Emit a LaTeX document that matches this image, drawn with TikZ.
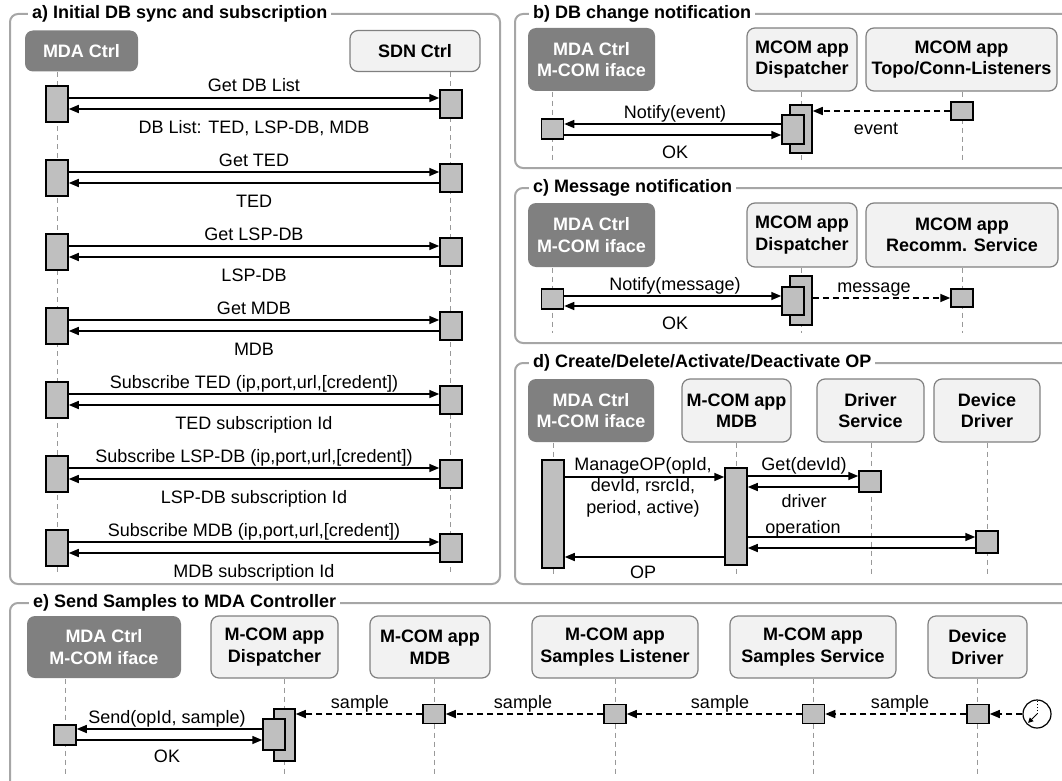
\documentclass[tikz,border=0pt]{standalone}
\usepackage{fontspec}
\setmainfont{Liberation Sans}
\usetikzlibrary{arrows.meta}

\tikzset{
  every node/.style={font=\fontsize{18}{21.5}\selectfont},
  frame/.style={draw=black!35, line width=2pt, rounded corners=8pt},
  paneltitle/.style={anchor=west, fill=white, inner sep=4pt, font=\fontsize{18}{21.5}\selectfont\bfseries},
  actor/.style={draw=black!50, line width=1.2pt, fill=black!5, rounded corners=8pt, align=center, inner sep=0pt, font=\fontsize{18}{21.5}\selectfont\bfseries},
  ctrl/.style={actor, draw=none, fill=black!50, text=white},
  act/.style={draw, line width=1.5pt, fill=black!25, inner sep=0pt, minimum width=22pt},
  life/.style={draw=black!40, line width=1pt, dash pattern=on 5pt off 4pt},
  msg/.style={-{Triangle[length=10pt,width=8pt]}, line width=1.5pt},
  dmsg/.style={msg, dash pattern=on 6pt off 4pt},
}

\begin{document}
\begin{tikzpicture}[x=1pt, y=-1pt]
  \useasboundingbox (0,0) rectangle (1062,781);
  \clip (0,0) rectangle (1062,781);

  % a) initial sync
  \draw[frame] (10,14) rectangle (500,584);
  \node[paneltitle] (ta) at (28,14) {a) Initial DB sync and subscription};
  \node[ctrl, minimum width=113, minimum height=41] (mdaA) at (81.5,51) {MDA Ctrl};
  \node[actor, minimum width=130, minimum height=41] (sdnA) at (415,51) {SDN Ctrl};
  \draw[life] (mdaA.south -| 57,0) -- (57,575);
  \draw[life] (sdnA.south -| 450,0) -- (450,575);
  \foreach \k/\ta/\tb in {0/Get DB List/{DB List: TED, LSP-DB, MDB}, 1/Get TED/TED,
      2/Get LSP-DB/LSP-DB, 3/Get MDB/MDB,
      4/{Subscribe TED (ip,port,url,[credent])}/TED subscription Id,
      5/{Subscribe LSP-DB (ip,port,url,[credent])}/LSP-DB subscription Id,
      6/{Subscribe MDB (ip,port,url,[credent])}/MDB subscription Id}{
    \pgfmathsetmacro\y{98+74*\k}
    \node[act, minimum height=36] (am\k) at (57,\y+6) {};
    \node[act, minimum height=28] (as\k) at (451,\y+6) {};
    \draw[msg] (am\k.east |- 0,\y) -- (as\k.west |- 0,\y);
    \draw[msg] (as\k.west |- 0,\y+11) -- (am\k.east |- 0,\y+11);
    \node[anchor=base] (lt\k) at (254,\y-6) {\ta};
    \node[anchor=base] (lb\k) at (254,\y+35) {\tb};
  }

  % b) DB change notification
  \draw[frame] (515,14) rectangle (1080,168);
  \node[paneltitle] (tb) at (529,14) {b) DB change notification};
  \node[ctrl, minimum width=127, minimum height=63] (mdaB) at (591.5,59.5) {MDA Ctrl\\M-COM iface};
  \node[actor, minimum width=110, minimum height=63] (dispB) at (802,59.5) {MCOM app\\Dispatcher};
  \node[actor, minimum width=191, minimum height=63] (topoB) at (961.5,59.5) {MCOM app\\Topo/Conn-Listeners};
  \draw[life] (mdaB.south -| 552,0) -- (552,161);
  \draw[life] (dispB.south -| 801,0) -- (801,161);
  \draw[life] (topoB.south -| 962,0) -- (962,161);
  \node[act, minimum height=20] (amB) at (552.5,129) {};
  \node[act, minimum height=48] (odB) at (801,129) {};
  \node[act, minimum height=29] (idB) at (793,129.5) {};
  \node[act, minimum height=18] (atB) at (962,111) {};
  \draw[dmsg] (atB.west) -- (odB.east |- atB.west);
  \draw[msg] (idB.west |- 0,124) -- (amB.east |- 0,124);
  \draw[msg] (amB.east |- 0,135) -- (idB.west |- 0,135);
  \node[anchor=base] (nb1) at (675,118) {Notify(event)};
  \node[anchor=base] (nb2) at (675,158) {OK};
  \node[anchor=base] (nb3) at (876,135) {event};

  % c) message notification
  \draw[frame] (515,188) rectangle (1080,343);
  \node[paneltitle] (tc) at (529,188) {c) Message notification};
  \node[ctrl, minimum width=127, minimum height=64] (mdaC) at (591.5,235) {MDA Ctrl\\M-COM iface};
  \node[actor, minimum width=110, minimum height=64] (dispC) at (802,235) {MCOM app\\Dispatcher};
  \node[actor, minimum width=192, minimum height=64] (recC) at (962,235) {MCOM app\\Recomm. Service};
  \draw[life] (mdaC.south -| 552,0) -- (552,333);
  \draw[life] (dispC.south -| 801,0) -- (801,333);
  \draw[life] (recC.south -| 962,0) -- (962,333);
  \node[act, minimum height=20] (amC) at (552.5,299) {};
  \node[act, minimum height=49] (odC) at (801,300.5) {};
  \node[act, minimum height=28] (idC) at (793,301) {};
  \node[act, minimum height=18] (arC) at (962,298) {};
  \draw[msg] (amC.east |- 0,296) -- (idC.west |- 0,296);
  \draw[msg] (idC.west |- 0,306) -- (amC.east |- 0,306);
  \draw[dmsg] (odC.east |- arC.west) -- (arC.west);
  \node[anchor=base] (nc1) at (675,290) {Notify(message)};
  \node[anchor=base] (nc2) at (675,329) {OK};
  \node[anchor=base] (nc3) at (874,292) {message};

  % d) create/delete/activate/deactivate
  \draw[frame] (515,363) rectangle (1080,584);
  \node[paneltitle] (td) at (529,363) {d) Create/Delete/Activate/Deactivate OP};
  \node[ctrl, minimum width=126, minimum height=63] (mdaD) at (591,410.5) {MDA Ctrl\\M-COM iface};
  \node[actor, minimum width=109, minimum height=63] (mdbD) at (736.5,410.5) {M-COM app\\MDB};
  \node[actor, minimum width=107, minimum height=63] (dsD) at (870.5,410.5) {Driver\\Service};
  \node[actor, minimum width=106, minimum height=63] (ddD) at (987,410.5) {Device\\Driver};
  \draw[life] (mdaD.south -| 553,0) -- (553,575);
  \draw[life] (mdbD.south -| 736,0) -- (736,575);
  \draw[life] (dsD.south -| 871,0) -- (871,575);
  \draw[life] (ddD.south -| 987,0) -- (987,575);
  \node[act, minimum height=108] (amD) at (553,514) {};
  \node[act, minimum height=97] (mbD) at (736,516.5) {};
  \node[act, minimum height=21] (dsA) at (870,481.5) {};
  \node[act, minimum height=22] (ddA) at (987,542) {};
  \draw[msg] (amD.east |- 0,477) -- (mbD.west |- 0,477);
  \draw[msg] (mbD.east |- 0,476) -- (dsA.west |- 0,476);
  \draw[msg] (dsA.west |- 0,487) -- (mbD.east |- 0,487);
  \draw[msg] (mbD.east |- 0,537) -- (ddA.west |- 0,537);
  \draw[msg] (ddA.west |- 0,548) -- (mbD.east |- 0,548);
  \draw[msg] (mbD.west |- 0,557) -- (amD.east |- 0,557);
  \node[align=center] (nd1) at (643,487) {ManageOP(opId,\\devId, rsrcId,\\period, active)};
  \node[anchor=base] (nd2) at (804,470) {Get(devId)};
  \node[anchor=base] (nd3) at (804,507) {driver};
  \node[anchor=base] (nd4) at (803,533) {operation};
  \node[anchor=base] (nd5) at (643,578) {OP};

  % e) samples
  \draw[frame] (10,603) rectangle (1080,795);
  \node[paneltitle] (te) at (29,603) {e) Send Samples to MDA Controller};
  \node[ctrl, minimum width=154, minimum height=62] (mdaE) at (104,647) {MDA Ctrl\\M-COM iface};
  \node[actor, minimum width=127, minimum height=62] (dispE) at (274.5,647) {M-COM app\\Dispatcher};
  \node[actor, minimum width=120, minimum height=62] (mdbE) at (430,647) {M-COM app\\MDB};
  \node[actor, minimum width=166, minimum height=62] (lisE) at (615,647) {M-COM app\\Samples Listener};
  \node[actor, minimum width=166, minimum height=62] (serE) at (813,647) {M-COM app\\Samples Service};
  \node[actor, minimum width=99, minimum height=62] (drvE) at (977.5,647) {Device\\Driver};
  \draw[life] (mdaE.south -| 65,0) -- (65,776);
  \draw[life] (dispE.south -| 284,0) -- (284,776);
  \draw[life] (mdbE.south -| 434,0) -- (434,776);
  \draw[life] (lisE.south -| 615,0) -- (615,776);
  \draw[life] (serE.south -| 813,0) -- (813,776);
  \draw[life] (drvE.south -| 977,0) -- (977,776);
  \node[act, minimum height=20] (amE) at (65,735) {};
  \node[act, minimum width=21, minimum height=52] (odE) at (284.5,735) {};
  \node[act, minimum height=31] (idE) at (274,734.5) {};
  \node[act, minimum height=19] (mbE) at (434,714) {};
  \node[act, minimum height=19] (lsE) at (615,714) {};
  \node[act, minimum height=19] (svE) at (813.5,714) {};
  \node[act, minimum height=19] (dvE) at (978,714) {};
  \node[draw, circle, line width=1.2pt, minimum size=28, inner sep=0pt] (clk) at (1037,714) {};
  \draw[line width=1pt, dotted] (clk.center) -- (clk.north);
  \draw[-{Triangle[length=5pt,width=5pt]}, line width=1pt, shorten >=2pt] (clk.center) -- (clk.south west);
  \draw[dmsg] (clk.west) -- (dvE.east);
  \draw[dmsg] (dvE.west) -- (svE.east);
  \draw[dmsg] (svE.west) -- (lsE.east);
  \draw[dmsg] (lsE.west) -- (mbE.east);
  \draw[dmsg] (mbE.west) -- (odE.east |- mbE.west);
  \draw[msg] (idE.west |- 0,729) -- (amE.east |- 0,729);
  \draw[msg] (amE.east |- 0,740) -- (idE.west |- 0,740);
  \node[anchor=base] (ne1) at (360,708) {sample};
  \node[anchor=base] (ne2) at (523,708) {sample};
  \node[anchor=base] (ne3) at (720,708) {sample};
  \node[anchor=base] (ne4) at (900,708) {sample};
  \node[anchor=base] (ne5) at (167,723) {Send(opId, sample)};
  \node[anchor=base] (ne6) at (167,762) {OK};
\end{tikzpicture}
\end{document}
